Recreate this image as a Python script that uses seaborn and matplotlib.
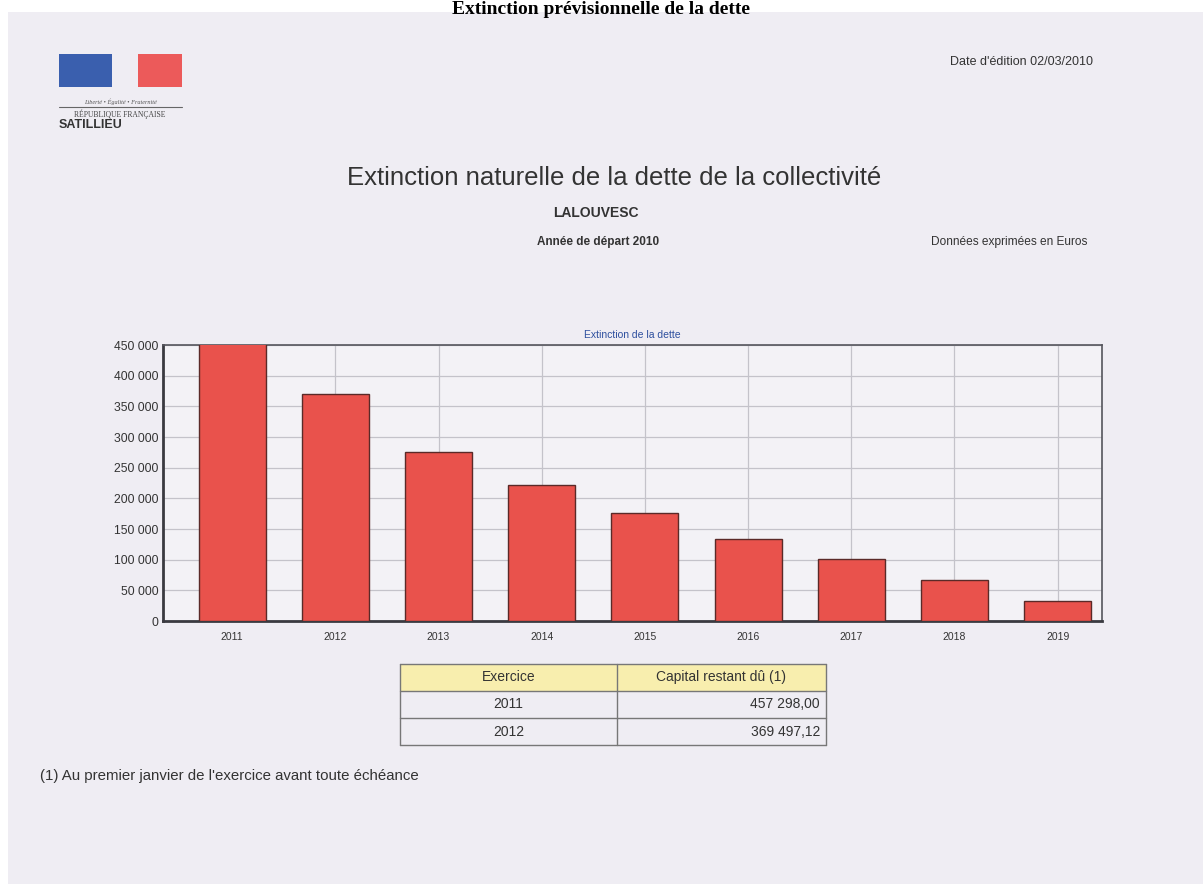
import matplotlib
matplotlib.use("Agg")
import matplotlib.pyplot as plt
from matplotlib.patches import Rectangle
from matplotlib.lines import Line2D
import seaborn as sns
import pandas as pd

# ---- data ----
years = ["2011", "2012", "2013", "2014", "2015", "2016", "2017", "2018", "2019"]
capital = [457298.00, 369497.12, 275500, 221000, 176500, 133500, 100500, 67500, 33000]
ytick_values = [0, 50000, 100000, 150000, 200000, 250000, 300000, 350000, 400000, 450000]
table_header = ["Exercice", "Capital restant dû (1)"]
table_years = ["2011", "2012"]
table_amounts = ["457 298,00", "369 497,12"]

sns.set_theme(style="white")
plt.rcParams["font.family"] = ["Liberation Sans", "DejaVu Sans"]

W, H = 1203, 884
fig = plt.figure(figsize=(W / 100, H / 100), dpi=100, facecolor="white")

def fx(px):
    return px / W

def fy(py):
    return 1 - py / H

page = "#efedf3"
fig.patches.append(Rectangle((fx(8), 0), 1 - fx(8), fy(12), transform=fig.transFigure,
                             facecolor=page, edgecolor="none", zorder=-5))

# document title (scan header)
fig.text(fx(601), fy(1), "Extinction prévisionnelle de la dette", family=["Liberation Serif"],
         fontsize=14, fontweight="bold", color="black", ha="center", va="top", zorder=5)

# logo
fig.patches.append(Rectangle((fx(59), fy(87)), fx(53), 33 / H, transform=fig.transFigure,
                             facecolor="#3a5fae", edgecolor="none"))
fig.patches.append(Rectangle((fx(138), fy(87)), fx(44), 33 / H, transform=fig.transFigure,
                             facecolor="#ec5a5a", edgecolor="none"))
fig.text(fx(120), fy(102), "Liberté • Égalité • Fraternité", fontsize=4.5, style="italic",
         family=["Liberation Serif"], color="#555555", ha="center", va="center")
fig.lines.append(Line2D([fx(59), fx(182)], [fy(107), fy(107)], transform=fig.transFigure,
                        color="#666666", lw=0.8))
fig.text(fx(120), fy(114), "RÉPUBLIQUE FRANÇAISE", fontsize=5.5, family=["Liberation Serif"],
         color="#444444", ha="center", va="center")
fig.text(fx(59), fy(125), "SATILLIEU", fontsize=9, fontweight="bold", color="#333333",
         ha="left", va="center")

fig.text(fx(1093), fy(62), "Date d'édition 02/03/2010", fontsize=9, color="#333333",
         ha="right", va="center")
fig.text(fx(614), fy(178), "Extinction naturelle de la dette de la collectivité", fontsize=18.5,
         color="#333333", ha="center", va="center")
fig.text(fx(596), fy(213), "LALOUVESC", fontsize=10, fontweight="bold", color="#333333",
         ha="center", va="center")
fig.text(fx(598), fy(242), "Année de départ 2010", fontsize=8.5, fontweight="bold",
         color="#333333", ha="center", va="center")
fig.text(fx(1087), fy(242), "Données exprimées en Euros", fontsize=8.6, color="#333333",
         ha="right", va="center")
fig.text(fx(40), fy(776), "(1) Au premier janvier de l'exercice avant toute échéance",
         fontsize=10.8, color="#333333", ha="left", va="center")

# ---- chart ----
ax = fig.add_axes([fx(163), fy(621), fx(1102) - fx(163), (621 - 345) / H])
ax.set_facecolor("#f3f2f6")
df = pd.DataFrame({"year": years, "capital": capital})
sns.barplot(data=df, x="year", y="capital", ax=ax, color="#e9524c", saturation=1,
            width=0.65, edgecolor="#5a2a28", linewidth=1.0, zorder=3)
ax.set_xlim(-0.67, 8.43)
ax.set_ylim(0, 450000)
ax.set_yticks(ytick_values)
ax.set_yticklabels([f"{v:,}".replace(",", " ") for v in ytick_values], fontsize=8.7, color="#333333")
ax.tick_params(axis="x", labelsize=7.5, colors="#333333", length=0, pad=8)
ax.tick_params(axis="y", length=0, pad=3)
ax.set_xlabel("")
ax.set_ylabel("")
ax.grid(True, axis="both", color="#c4c3ca", lw=0.9, zorder=0)
ax.set_axisbelow(True)
for s in ["left", "bottom"]:
    ax.spines[s].set_color("#3a3a40")
    ax.spines[s].set_linewidth(2.0)
for s in ["top", "right"]:
    ax.spines[s].set_color("#55555c")
    ax.spines[s].set_linewidth(1.2)
ax.set_title("Extinction de la dette", fontsize=7.5, color="#2d4f9e", pad=5)

# ---- table ----
x0, x1, x2 = 400, 617, 826
rows_y = [664, 691, 718, 745]
fig.patches.append(Rectangle((fx(x0), fy(rows_y[1])), fx(x2) - fx(x0), (rows_y[1] - rows_y[0]) / H,
                             transform=fig.transFigure, facecolor="#f8eeae", edgecolor="none"))
tc = "#777777"
for yy in rows_y:
    fig.lines.append(Line2D([fx(x0), fx(x2)], [fy(yy), fy(yy)], transform=fig.transFigure, color=tc, lw=1))
for xx in [x0, x1, x2]:
    fig.lines.append(Line2D([fx(xx), fx(xx)], [fy(rows_y[0]), fy(rows_y[-1])], transform=fig.transFigure,
                            color=tc, lw=1))
fig.text(fx((x0 + x1) / 2), fy(677), table_header[0], fontsize=10, color="#333333", ha="center", va="center")
fig.text(fx((x1 + x2) / 2), fy(677), table_header[1], fontsize=10, color="#333333", ha="center", va="center")
for i, (yr, amt) in enumerate(zip(table_years, table_amounts)):
    yc = (rows_y[i + 1] + rows_y[i + 2]) / 2
    fig.text(fx((x0 + x1) / 2), fy(yc), yr, fontsize=10, color="#333333", ha="center", va="center")
    fig.text(fx(x2 - 6), fy(yc), amt, fontsize=10, color="#333333", ha="right", va="center")

fig.savefig("out.png", dpi=100, facecolor="white")
